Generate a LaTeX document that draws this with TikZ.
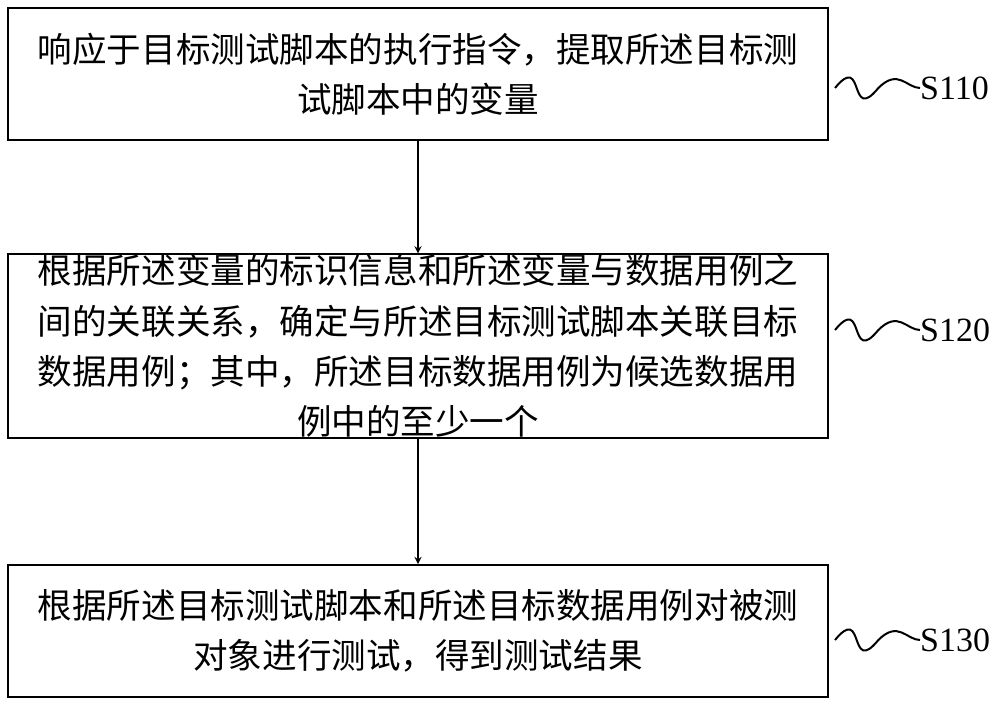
\documentclass[tikz,border=0pt]{standalone}
\usepackage{fontspec}
\setmainfont{Liberation Serif}
\newfontfamily\cjk{Noto Sans CJK SC}
\usetikzlibrary{positioning}
\tikzset{
	stepbox/.style={draw, line width=1.7pt, minimum width=24.6cm, align=center,
		font=\cjk\fontsize{29.5}{43}\selectfont, inner sep=0},
	flow/.style={->, line width=1.7pt, >=stealth},
	steplabel/.style={font=\fontsize{29}{34}\selectfont, anchor=west, inner sep=0},
	wave/.style={line width=1.7pt}
}
\begin{document}
\begin{tikzpicture}
	\useasboundingbox (0,0) rectangle (30,-21.21);
	
	\node[stepbox, minimum height=3.96cm] (s1) at (12.54,-2.22) {响应于目标测试脚本的执行指令，提取所述目标测\\试脚本中的变量};
	\node[stepbox, minimum height=5.46cm] (s2) at (12.54,-10.38) {根据所述变量的标识信息和所述变量与数据用例之\\间的关联关系，确定与所述目标测试脚本关联目标\\数据用例；其中，所述目标数据用例为候选数据用\\例中的至少一个};
	\node[stepbox, minimum height=3.96cm] (s3) at (12.54,-18.93) {根据所述目标测试脚本和所述目标数据用例对被测\\对象进行测试，得到测试结果};
	
	\draw[flow] (s1) -- (s2);
	\draw[flow] (s2) -- (s3);
	
	% labels with wavy leaders
	\foreach \n/\y/\t in {a/-2.64/S110, b/-9.9/S120, c/-19.2/S130}{
		\coordinate (w\n) at (25.05,\y);
		\node[steplabel] (l\n) at (27.6,\y) {\t};
		\draw[wave] (w\n) .. controls +(0.9,1.1) and +(-0.9,-1.1) .. ++(1.3,0)
			.. controls +(0.6,0.6) and +(-0.4,0) .. (l\n.west);
	}
\end{tikzpicture}
\end{document}
